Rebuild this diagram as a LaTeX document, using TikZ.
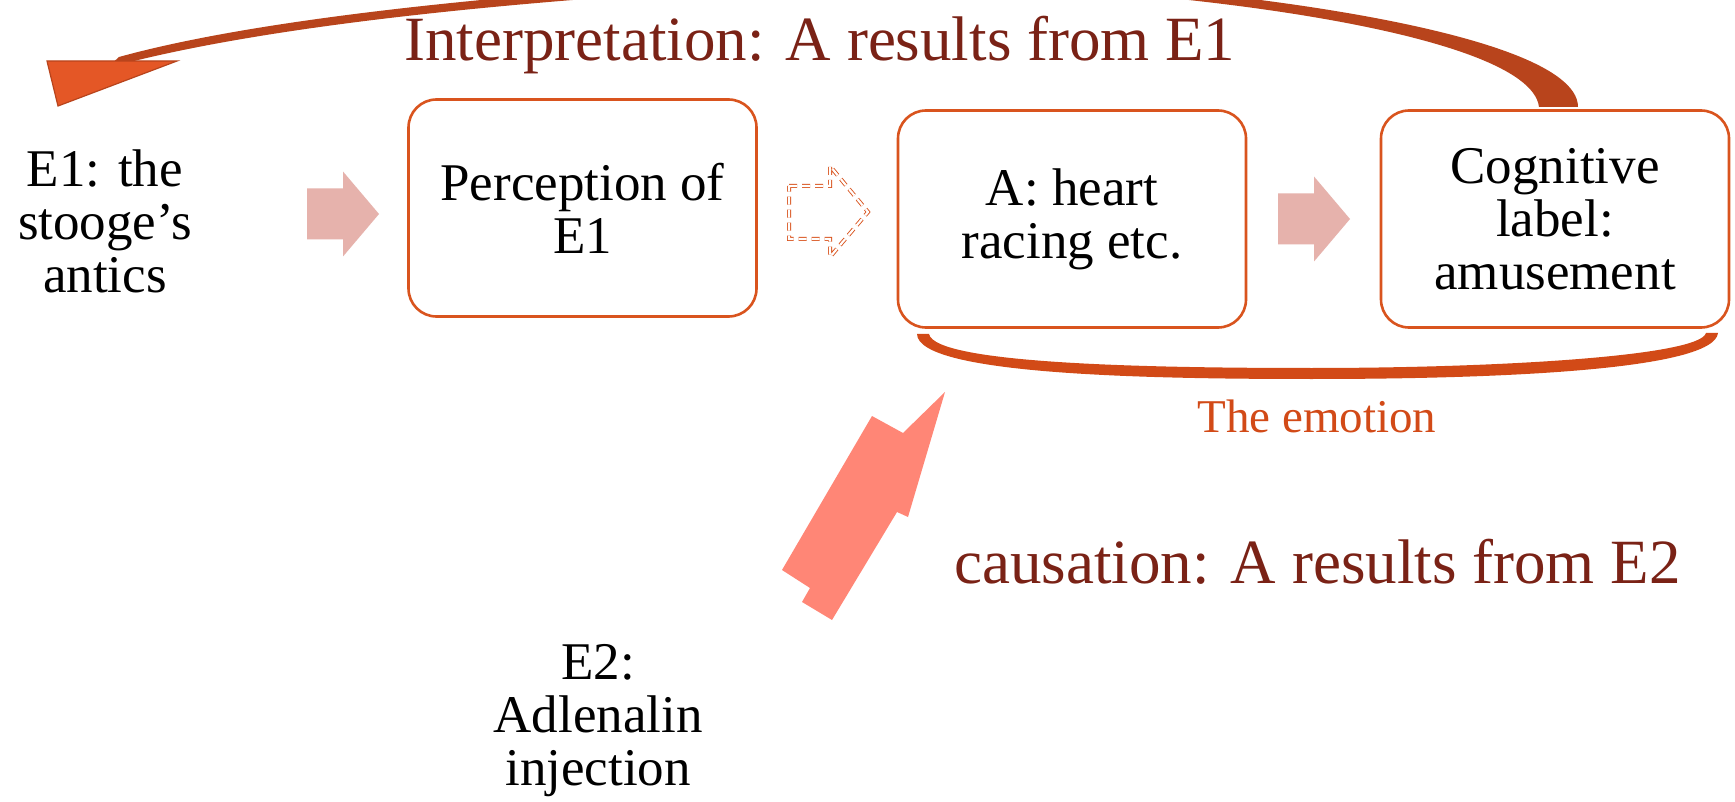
\documentclass[tikz,border=0pt]{standalone}
\usepackage{fontspec}
\setmainfont{Liberation Serif}
\definecolor{boxline}{RGB}{217,84,30}
\definecolor{darkred}{RGB}{122,34,22}
\definecolor{pinkarr}{RGB}{230,178,172}
\definecolor{salmon}{RGB}{255,134,118}
\definecolor{emo}{RGB}{210,74,23}
\definecolor{shaftc}{RGB}{184,68,28}
\definecolor{headc}{RGB}{228,87,38}
\newcommand{\myfnt}{\fontsize{26.5}{26.5}\selectfont}
\newcommand{\bigfnt}{\fontsize{31.5}{31.5}\selectfont}
\newcommand{\emofnt}{\fontsize{23.5}{23.5}\selectfont}
\begin{document}
\begin{tikzpicture}[x=0.5pt,y=-0.5pt,
  box/.style={draw=boxline,line width=1.3pt,rounded corners=14pt,fill=white,
    align=center,font=\myfnt,inner sep=0pt,minimum width=174pt,minimum height=108.5pt},
  plain/.style={align=center,font=\myfnt,inner sep=0pt},
  bigtext/.style={font=\bigfnt,text=darkred,inner sep=0pt},
  pinkarrow/.pic={\fill[pinkarr] (0,-25.5) -- (36,-25.5) -- (36,-42.5) -- (72,0)
      -- (36,42.5) -- (36,25.5) -- (0,25.5) -- cycle;}
]
\clip (0,0) rectangle (1735,802);
\fill[white] (0,0) rectangle (1735,802);

% boxes
\node[box] (b1) at (582.5,208) {Perception of\\E1};
\node[box] (b2) at (1072,219) {A: heart\\racing etc.};
\node[box] (b3) at (1555,219) {Cognitive\\label:\\amusement};

% outside labels
\node[plain] (e1) at (105,221) {E1: the\\stooge’s\\antics};
\node[plain] (e2) at (598,721) {E2:\\Adlenalin\\injection};

% block arrows
\pic at (307,214) {pinkarrow};
\pic at (1278,219) {pinkarrow};

% dashed block arrow
\draw[draw=boxline,line width=0.45pt,double=white,double distance=1.1pt,
      dash pattern=on 4pt off 2.5pt]
  (789,186) -- (830,186) -- (830,166) -- (868,212) -- (830,257) -- (830,239)
  -- (789,239) -- cycle;

% salmon arrow
\fill[salmon] (945,392) -- (908,517) -- (897,512) -- (832,620) -- (802,602)
  -- (810,588) -- (782,570) -- (872,416) -- (903,433) -- cycle;

% top interpretation arrow (tapered), from b3 round to E1
\fill[shaftc] (119,57) .. controls (260,18) and (520,-10) .. (860,-26)
  .. controls (1150,-26) and (1578,25) .. (1578,107)
  -- (1539,107) .. controls (1530,30) and (1150,-18) .. (860,-18)
  .. controls (520,-2) and (260,26) .. (107,68) -- cycle;
\fill[headc,draw=shaftc,line width=0.6pt] (47,61) -- (177,61) -- (58,106) -- cycle;

% bracket under the emotion
\fill[emo] (917,334) -- (929,334) .. controls (935,364) and (1150,368) .. (1312,368)
  .. controls (1500,368) and (1700,356) .. (1706,333) -- (1718,333)
  .. controls (1714,370) and (1500,379) .. (1312,379)
  .. controls (1150,379) and (918,375) .. (917,334) -- cycle;

% texts
\node[bigtext,anchor=base west] (interp) at (404,61) {Interpretation: A results from E1};
\node[bigtext,anchor=base west] (caus) at (954,583) {causation: A results from E2};
\node[font=\emofnt,text=emo,inner sep=0pt] (emotion) at (1317,416) {The emotion};
\end{tikzpicture}
\end{document}
